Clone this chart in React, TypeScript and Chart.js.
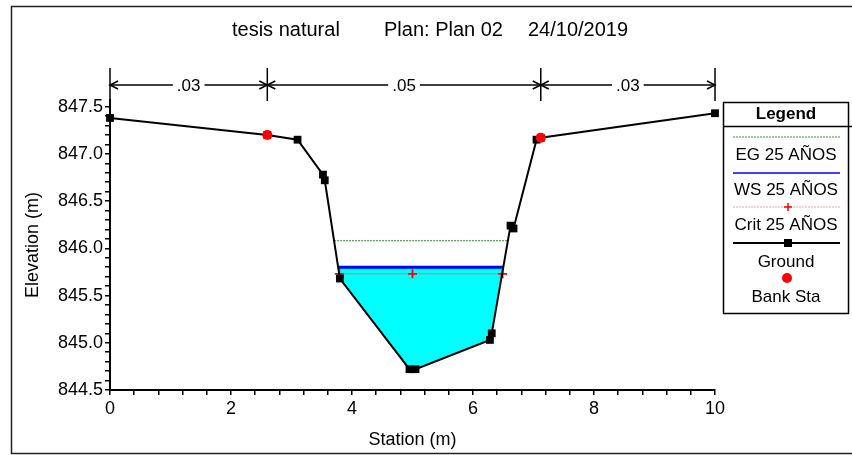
import React, { useEffect, useRef } from 'react';
import { Chart, registerables } from 'chart.js';

Chart.register(...registerables);

// ---------- data ----------
const TITLE_PARTS = ['tesis natural', 'Plan: Plan 02', '24/10/2019'];
const GROUND_STA = [0, 2.6, 3.1, 3.52, 3.55, 3.8, 4.95, 5.05, 6.28, 6.31, 6.62, 6.67, 7.05, 7.12, 10];
const GROUND_ELEV = [847.38, 847.2, 847.15, 846.78, 846.72, 845.68, 844.72, 844.72, 845.03, 845.1, 846.24, 846.21, 847.15, 847.17, 847.43];
const BANK_STA = [2.6, 7.12];
const BANK_ELEV = [847.2, 847.17];
const WS_ELEV = 845.8;
const EG_ELEV = 846.08;
const CRIT_ELEV = 845.73;
const CRIT_STA = [3.79, 5.0, 6.49];
const N_VALUES = ['.03', '.05', '.03'];
const N_BREAKS = [0, 2.6, 7.12, 10];
const X_LABEL_TICKS = [0, 2, 4, 6, 8, 10];
const Y_LABEL_TICKS = [844.5, 845.0, 845.5, 846.0, 846.5, 847.0, 847.5];
const LEGEND_LABELS = ['EG 25 AÑOS', 'WS 25 AÑOS', 'Crit 25 AÑOS', 'Ground', 'Bank Sta'];

const X_MINOR_STEP = 0.4;
const Y_MINOR_STEP = 0.1;
const FONT = '"Liberation Sans", Arial, sans-serif';

function minorTicks(min: number, max: number, step: number) {
  const n = Math.round((max - min) / step);
  const out: number[] = [];
  for (let k = 0; k <= n; k++) out.push(+(min + k * step).toFixed(4));
  return out;
}

// where the ground crosses a level on both sides of the channel bottom
function crossings(level: number) {
  let iMin = 0;
  GROUND_ELEV.forEach((e, i) => { if (e < GROUND_ELEV[iMin]) iMin = i; });
  let i = iMin;
  while (i > 0 && GROUND_ELEV[i - 1] < level) i--;
  let j = iMin;
  while (j < GROUND_ELEV.length - 1 && GROUND_ELEV[j + 1] < level) j++;
  const lerp = (a: number, b: number) => {
    const t = (level - GROUND_ELEV[a]) / (GROUND_ELEV[b] - GROUND_ELEV[a]);
    return GROUND_STA[a] + t * (GROUND_STA[b] - GROUND_STA[a]);
  };
  return { xL: lerp(i - 1, i), xR: lerp(j + 1, j), i, j };
}

function levelLine(level: number) {
  const c = crossings(level);
  return [{ x: c.xL, y: level }, { x: c.xR, y: level }];
}

function waterPolygon(level: number) {
  const c = crossings(level);
  const pts = [{ x: c.xL, y: level }];
  for (let k = c.i; k <= c.j; k++) pts.push({ x: GROUND_STA[k], y: GROUND_ELEV[k] });
  pts.push({ x: c.xR, y: level });
  return pts;
}

const decorPlugin = {
  id: 'decor',
  beforeDraw(chart: any) {
    const ctx = chart.ctx;
    ctx.save();
    ctx.fillStyle = '#fff';
    ctx.fillRect(0, 0, chart.width, chart.height);
    ctx.restore();
  },
  afterDraw(chart: any) {
    const ctx = chart.ctx as CanvasRenderingContext2D;
    const xs = chart.scales.x;
    const ca = chart.chartArea;
    ctx.save();

    // frame
    ctx.strokeStyle = '#222';
    ctx.lineWidth = 1.5;
    ctx.beginPath();
    ctx.moveTo(852, 6.5);
    ctx.lineTo(11.5, 6.5);
    ctx.lineTo(11.5, 453.5);
    ctx.lineTo(852, 453.5);
    ctx.stroke();

    // title
    ctx.fillStyle = '#000';
    ctx.font = `20px ${FONT}`;
    ctx.textBaseline = 'middle';
    ctx.textAlign = 'left';
    const titleX = [232, 384, 528];
    TITLE_PARTS.forEach((t, k) => ctx.fillText(t, titleX[k], 30));

    // axis titles
    ctx.font = `18px ${FONT}`;
    ctx.textAlign = 'center';
    ctx.fillText('Station (m)', (ca.left + ca.right) / 2, 440);
    ctx.save();
    ctx.translate(33, (ca.top + ca.bottom) / 2);
    ctx.rotate(-Math.PI / 2);
    ctx.fillText('Elevation (m)', 0, 0);
    ctx.restore();

    // Manning's n annotations
    const ny = 85;
    ctx.strokeStyle = '#000';
    ctx.lineWidth = 1.5;
    const bx = N_BREAKS.map((s) => xs.getPixelForValue(s));
    bx.forEach((px) => {
      ctx.beginPath();
      ctx.moveTo(px, 68);
      ctx.lineTo(px, 101);
      ctx.stroke();
    });
    ctx.font = `17px ${FONT}`;
    for (let k = 0; k < N_VALUES.length; k++) {
      const a = bx[k], b = bx[k + 1];
      ctx.beginPath();
      ctx.moveTo(a, ny);
      ctx.lineTo(b, ny);
      ctx.stroke();
      // arrowheads
      ctx.beginPath();
      ctx.moveTo(a + 8, ny - 4); ctx.lineTo(a, ny); ctx.lineTo(a + 8, ny + 4);
      ctx.moveTo(b - 8, ny - 4); ctx.lineTo(b, ny); ctx.lineTo(b - 8, ny + 4);
      ctx.stroke();
      const mid = (a + b) / 2;
      const w = ctx.measureText(N_VALUES[k]).width + 8;
      ctx.fillStyle = '#fff';
      ctx.fillRect(mid - w / 2, ny - 8, w, 16);
      ctx.fillStyle = '#000';
      ctx.fillText(N_VALUES[k], mid, ny + 1);
    }

    // legend
    const L = 723.5, R = 848.5, T = 102.5, B = 313.5;
    const cx = 786;
    ctx.lineWidth = 1.5;
    ctx.strokeStyle = '#000';
    ctx.fillStyle = '#fff';
    ctx.fillRect(L, T, R - L, B - T);
    ctx.strokeRect(L, T, R - L, B - T);
    ctx.beginPath();
    ctx.moveTo(L, 126.5);
    ctx.lineTo(852, 126.5);
    ctx.stroke();
    ctx.fillStyle = '#000';
    ctx.font = `bold 17px ${FONT}`;
    ctx.fillText('Legend', cx, 114);

    const lx1 = 733, lx2 = 840;
    // EG
    ctx.strokeStyle = '#3a9a3a';
    ctx.lineWidth = 1;
    ctx.setLineDash([2, 1]);
    ctx.beginPath(); ctx.moveTo(lx1, 137); ctx.lineTo(lx2, 137); ctx.stroke();
    ctx.setLineDash([]);
    // WS
    ctx.strokeStyle = '#0000ff';
    ctx.lineWidth = 1.5;
    ctx.beginPath(); ctx.moveTo(lx1, 173); ctx.lineTo(lx2, 173); ctx.stroke();
    // Crit
    ctx.strokeStyle = '#ff9a9a';
    ctx.lineWidth = 1;
    ctx.setLineDash([2, 1]);
    ctx.beginPath(); ctx.moveTo(lx1, 207); ctx.lineTo(lx2, 207); ctx.stroke();
    ctx.setLineDash([]);
    ctx.strokeStyle = '#ff0000';
    ctx.lineWidth = 1.5;
    ctx.beginPath();
    ctx.moveTo(788 - 4, 207); ctx.lineTo(788 + 4, 207);
    ctx.moveTo(788, 203); ctx.lineTo(788, 211);
    ctx.stroke();
    // Ground
    ctx.strokeStyle = '#000';
    ctx.lineWidth = 2;
    ctx.beginPath(); ctx.moveTo(lx1, 243); ctx.lineTo(lx2, 243); ctx.stroke();
    ctx.fillStyle = '#000';
    ctx.fillRect(784, 239, 8, 8);
    // Bank
    ctx.fillStyle = '#ff0000';
    ctx.beginPath(); ctx.arc(787, 278, 5, 0, Math.PI * 2); ctx.fill();

    ctx.fillStyle = '#000';
    ctx.font = `17px ${FONT}`;
    const ly = [155, 190, 225, 262, 297];
    LEGEND_LABELS.forEach((t, k) => ctx.fillText(t, cx, ly[k]));

    ctx.restore();
  },
};

export default function App() {
  const ref = useRef<HTMLCanvasElement | null>(null);

  useEffect(() => {
    document.body.style.margin = '0';
    if (!ref.current) return;
    const ground = GROUND_STA.map((x, i) => ({ x, y: GROUND_ELEV[i] }));
    const bank = BANK_STA.map((x, i) => ({ x, y: BANK_ELEV[i] }));
    const crit = CRIT_STA.map((x) => ({ x, y: CRIT_ELEV }));
    const xTicks = minorTicks(0, 10, X_MINOR_STEP);
    const yTicks = minorTicks(844.5, 847.5, Y_MINOR_STEP);
    const isLabel = (arr: number[], v: number) => arr.some((a) => Math.abs(a - v) < 1e-6);

    const chart = new Chart(ref.current, {
      type: 'scatter',
      data: {
        datasets: [
          {
            label: 'Bank Sta', data: bank, order: 0, showLine: false,
            pointStyle: 'circle', pointRadius: 5, pointBackgroundColor: '#ff0000', pointBorderWidth: 0,
            clip: false,
          },
          {
            label: 'Ground', data: ground, order: 1, showLine: true,
            borderColor: '#000', borderWidth: 2, pointStyle: 'rect', pointRadius: 5.5,
            pointBackgroundColor: '#000', pointBorderWidth: 0, clip: false,
          },
          {
            label: 'Crit 25 AÑOS', data: crit, order: 2, showLine: true,
            borderColor: '#e07070', borderWidth: 1, pointStyle: 'cross', pointRadius: 4.5,
            pointBorderColor: '#ff0000', pointBorderWidth: 1.8,
          },
          {
            label: 'WS 25 AÑOS', data: levelLine(WS_ELEV), order: 3, showLine: true,
            borderColor: '#0000ff', borderWidth: 3, pointRadius: 0,
          },
          {
            label: 'EG 25 AÑOS', data: levelLine(EG_ELEV), order: 4, showLine: true,
            borderColor: '#2e8b2e', borderWidth: 1, borderDash: [2, 1], pointRadius: 0,
          },
          {
            label: 'water', data: waterPolygon(WS_ELEV), order: 5, showLine: true,
            borderWidth: 0, borderColor: 'rgba(0,0,0,0)', pointRadius: 0,
            backgroundColor: '#00ffff', fill: { target: { value: WS_ELEV } },
          } as any,
        ],
      },
      options: {
        animation: false,
        responsive: false,
        devicePixelRatio: 1,
        layout: { padding: { top: 100, right: 137, left: 0, bottom: 0 } },
        plugins: { legend: { display: false }, title: { display: false }, tooltip: { enabled: false } },
        events: [],
        scales: {
          x: {
            type: 'linear', min: 0, max: 10,
            afterBuildTicks: (s: any) => { s.ticks = xTicks.map((v) => ({ value: v })); },
            afterFit: (s: any) => { s.height = 65; },
            grid: { drawOnChartArea: false, drawTicks: true, tickLength: 5, color: '#000', lineWidth: 1.5 },
            border: { display: true, color: '#000', width: 2 },
            ticks: {
              autoSkip: false, maxRotation: 0, padding: 3, color: '#000',
              font: { family: FONT, size: 18 },
              callback: (v: any) => (isLabel(X_LABEL_TICKS, +v) ? String(Math.round(+v)) : ''),
            },
          },
          y: {
            type: 'linear', min: 844.5, max: 847.57,
            afterBuildTicks: (s: any) => { s.ticks = yTicks.map((v) => ({ value: v })); },
            afterFit: (s: any) => { s.width = 110; },
            grid: { drawOnChartArea: false, drawTicks: true, tickLength: 5, color: '#000', lineWidth: 1.5 },
            border: { display: true, color: '#000', width: 2 },
            ticks: {
              autoSkip: false, padding: 2, color: '#000',
              font: { family: FONT, size: 18 },
              callback: (v: any) => (isLabel(Y_LABEL_TICKS, +v) ? (+v).toFixed(1) : ''),
            },
          },
        },
      },
      plugins: [decorPlugin],
    });
    return () => chart.destroy();
  }, []);

  return <canvas ref={ref} width={852} height={455} style={{ display: 'block', width: 852, height: 455 }} />;
}
